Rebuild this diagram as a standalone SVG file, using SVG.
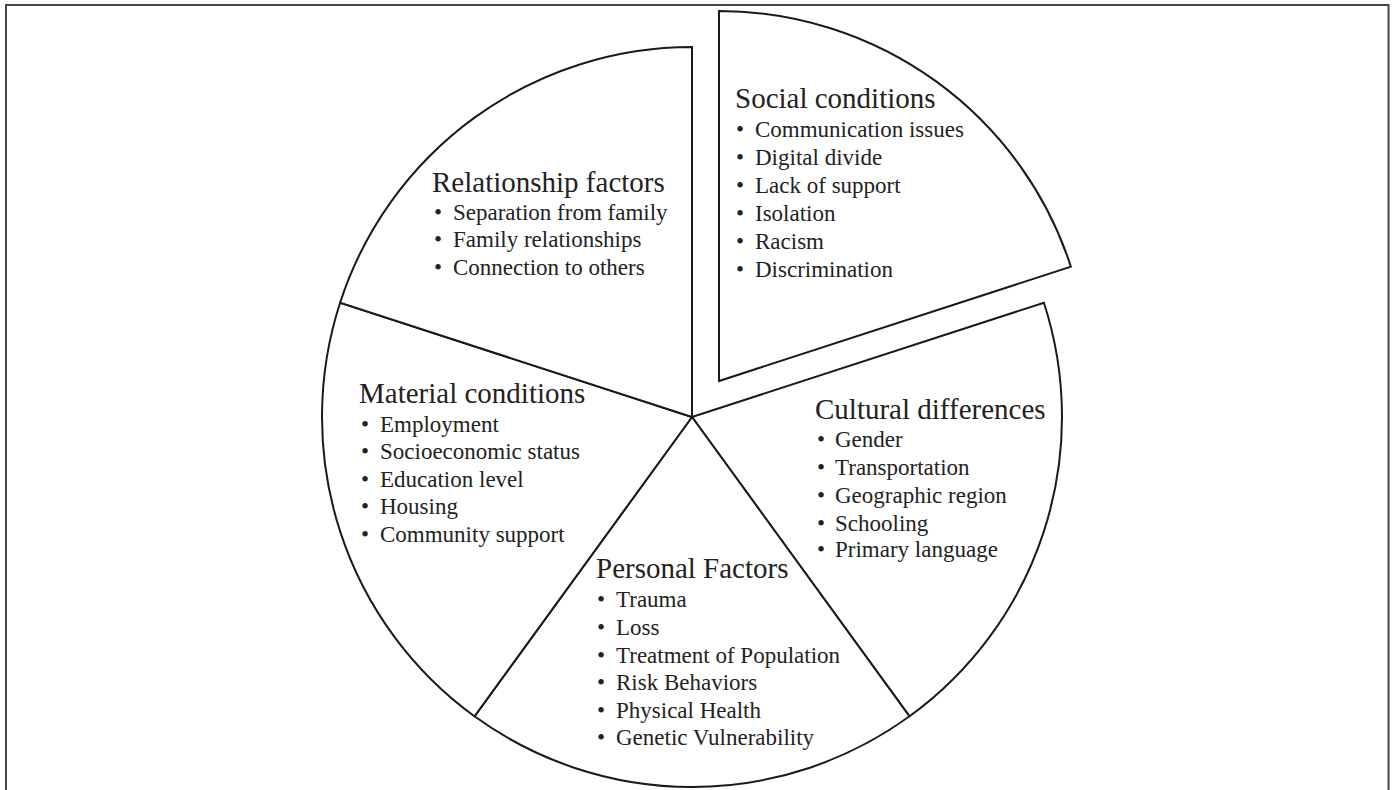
<svg xmlns="http://www.w3.org/2000/svg" width="1396" height="790" viewBox="0 0 1396 790">
<style>
.slice{fill:#fff;stroke:#1a1a1a;stroke-width:2;stroke-linejoin:miter}
.title{font-family:"Liberation Serif","Times New Roman",serif;font-size:29px;fill:#222}
.item{font-family:"Liberation Serif","Times New Roman",serif;font-size:23px;fill:#222}
</style>
<rect x="0" y="0" width="1396" height="790" fill="#fff"/>
<path d="M6,790 V5 H1388.5 V790" fill="none" stroke="#444" stroke-width="2"/>
<g id="social">
<path class="slice" d="M719,381 L719,11 A370,370 0 0 1 1070.9,266.7 Z"/>
<text class="title" x="735" y="108">Social conditions</text>
<g class="item">
<text x="736" y="136.5">•</text><text x="755" y="136.5">Communication issues</text>
<text x="736" y="164.5">•</text><text x="755" y="164.5">Digital divide</text>
<text x="736" y="192.5">•</text><text x="755" y="192.5">Lack of support</text>
<text x="736" y="220.5">•</text><text x="755" y="220.5">Isolation</text>
<text x="736" y="248.5">•</text><text x="755" y="248.5">Racism</text>
<text x="736" y="276.5">•</text><text x="755" y="276.5">Discrimination</text>
</g>
</g>
<g id="cultural">
<path class="slice" d="M692,417 L1043.9,302.7 A370,370 0 0 1 909.5,716.3 Z"/>
<text class="title" x="815" y="419">Cultural differences</text>
<g class="item">
<text x="817" y="447">•</text><text x="835" y="447">Gender</text>
<text x="817" y="475">•</text><text x="835" y="475">Transportation</text>
<text x="817" y="503">•</text><text x="835" y="503">Geographic region</text>
<text x="817" y="530.5">•</text><text x="835" y="530.5">Schooling</text>
<text x="817" y="557">•</text><text x="835" y="557">Primary language</text>
</g>
</g>
<g id="personal">
<path class="slice" d="M692,417 L909.5,716.3 A370,370 0 0 1 474.5,716.3 Z"/>
<text class="title" x="596" y="578">Personal Factors</text>
<g class="item">
<text x="597" y="606.5">•</text><text x="616" y="606.5">Trauma</text>
<text x="597" y="634.5">•</text><text x="616" y="634.5">Loss</text>
<text x="597" y="662.5">•</text><text x="616" y="662.5">Treatment of Population</text>
<text x="597" y="690">•</text><text x="616" y="690">Risk Behaviors</text>
<text x="597" y="717.5">•</text><text x="616" y="717.5">Physical Health</text>
<text x="597" y="745">•</text><text x="616" y="745">Genetic Vulnerability</text>
</g>
</g>
<g id="material">
<path class="slice" d="M692,417 L474.5,716.3 A370,370 0 0 1 340.1,302.7 Z"/>
<text class="title" x="359" y="403">Material conditions</text>
<g class="item">
<text x="361" y="431.5">•</text><text x="380" y="431.5">Employment</text>
<text x="361" y="459">•</text><text x="380" y="459">Socioeconomic status</text>
<text x="361" y="486.5">•</text><text x="380" y="486.5">Education level</text>
<text x="361" y="514">•</text><text x="380" y="514">Housing</text>
<text x="361" y="541.5">•</text><text x="380" y="541.5">Community support</text>
</g>
</g>
<g id="relationship">
<path class="slice" d="M692,417 L340.1,302.7 A370,370 0 0 1 692,47 Z"/>
<text class="title" x="432" y="191.5">Relationship factors</text>
<g class="item">
<text x="434" y="219.5">•</text><text x="453" y="219.5">Separation from family</text>
<text x="434" y="247">•</text><text x="453" y="247">Family relationships</text>
<text x="434" y="275">•</text><text x="453" y="275">Connection to others</text>
</g>
</g>
<g id="connectors"></g>
</svg>
